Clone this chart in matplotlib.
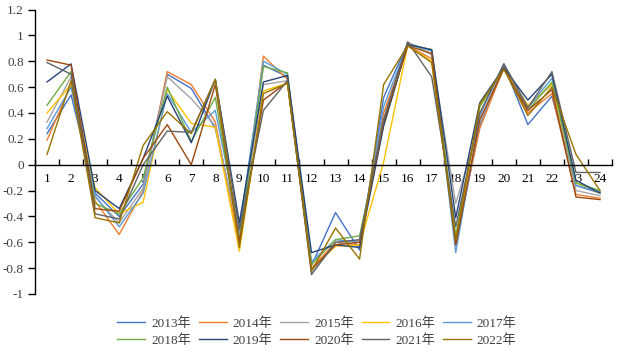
import matplotlib
matplotlib.use("Agg")
import matplotlib.pyplot as plt
import numpy as np
from matplotlib.ticker import FixedLocator

# ── Data ───────────────────────────────────────────────────────────────────────
categories = [str(i) for i in range(1, 25)]
years = ["2013年", "2014年", "2015年", "2016年", "2017年",
         "2018年", "2019年", "2020年", "2021年", "2022年"]

s2013 = [0.24, 0.54, -0.22, -0.40, -0.15, 0.70, 0.59, 0.28, -0.52, 0.77, 0.68, -0.78,
         -0.37, -0.66, 0.52, 0.94, 0.88, -0.62, 0.30, 0.77, 0.31, 0.53, -0.16, -0.22]
s2014 = [0.19, 0.62, -0.28, -0.54, -0.20, 0.72, 0.62, 0.33, -0.62, 0.84, 0.66, -0.80,
         -0.60, -0.62, 0.40, 0.92, 0.82, -0.58, 0.28, 0.75, 0.40, 0.55, -0.23, -0.26]
s2015 = [0.33, 0.68, -0.25, -0.45, -0.18, 0.68, 0.51, 0.30, -0.55, 0.62, 0.65, -0.83,
         -0.62, -0.58, 0.35, 0.95, 0.85, -0.30, 0.32, 0.78, 0.45, 0.62, -0.20, -0.24]
s2016 = [0.40, 0.62, -0.18, -0.38, -0.29, 0.58, 0.32, 0.29, -0.67, 0.57, 0.63, -0.80,
         -0.63, -0.62, 0.02, 0.92, 0.80, -0.60, 0.45, 0.75, 0.46, 0.62, -0.14, -0.22]
s2017 = [0.28, 0.60, -0.24, -0.48, -0.22, 0.55, 0.25, 0.42, -0.50, 0.80, 0.70, -0.75,
         -0.58, -0.60, 0.45, 0.93, 0.88, -0.68, 0.38, 0.78, 0.44, 0.67, -0.16, -0.21]
s2018 = [0.46, 0.72, -0.30, -0.38, -0.10, 0.60, 0.18, 0.52, -0.58, 0.76, 0.71, -0.77,
         -0.58, -0.55, 0.30, 0.93, 0.89, -0.55, 0.45, 0.74, 0.42, 0.64, -0.14, -0.20]
s2019 = [0.64, 0.78, -0.20, -0.34, 0.05, 0.53, 0.17, 0.66, -0.45, 0.64, 0.69, -0.68,
         -0.62, -0.64, 0.30, 0.93, 0.89, -0.41, 0.48, 0.75, 0.50, 0.70, -0.12, -0.22]
s2020 = [0.81, 0.77, -0.34, -0.36, 0.05, 0.31, 0.00, 0.62, -0.60, 0.50, 0.64, -0.81,
         -0.62, -0.60, 0.33, 0.92, 0.86, -0.62, 0.35, 0.74, 0.42, 0.58, -0.25, -0.27]
s2021 = [0.79, 0.70, -0.38, -0.42, 0.00, 0.26, 0.25, 0.66, -0.50, 0.42, 0.65, -0.85,
         -0.60, -0.58, 0.35, 0.95, 0.68, -0.48, 0.40, 0.78, 0.44, 0.72, -0.06, -0.06]
s2022 = [0.08, 0.65, -0.41, -0.45, 0.15, 0.41, 0.24, 0.66, -0.64, 0.55, 0.63, -0.82,
         -0.49, -0.73, 0.62, 0.92, 0.79, -0.58, 0.47, 0.74, 0.38, 0.60, 0.08, -0.20]

series = [s2013, s2014, s2015, s2016, s2017, s2018, s2019, s2020, s2021, s2022]
colors = ["#4472C4", "#ED7D31", "#A5A5A5", "#FFC000", "#5B9BD5",
          "#70AD47", "#264478", "#9E480E", "#636363", "#997300"]

y_ticks = [-1, -0.8, -0.6, -0.4, -0.2, 0, 0.2, 0.4, 0.6, 0.8, 1, 1.2]

# ── Plot ───────────────────────────────────────────────────────────────────────
FONT = ["Liberation Serif", "Noto Sans CJK SC"]
plt.rcParams["font.family"] = FONT
plt.rcParams["font.size"] = 9.5

fig = plt.figure(figsize=(6.24, 3.54), dpi=100)
ax = fig.add_axes([0.0561, 0.1695, 0.9247, 0.8035])

x = np.arange(1, len(categories) + 1)
lines = []
for vals, col, lab in zip(series, colors, years):
    ln, = ax.plot(x, vals, color=col, lw=1.0, label=lab)
    lines.append(ln)

ax.set_xlim(0.5, len(categories) + 0.5)
ax.set_ylim(-1, 1.2)

ax.set_yticks(y_ticks)
ax.set_yticklabels([f"{v:g}" for v in y_ticks], color="#404040")
ax.tick_params(axis="y", direction="out", length=5, width=1, pad=3)

# category labels at centres, tick marks at boundaries
ax.set_xticks(x)
ax.set_xticklabels(categories, color="#404040")
ax.tick_params(axis="x", which="major", length=0, pad=6)
ax.xaxis.set_minor_locator(FixedLocator(np.arange(0.5, len(categories) + 1, 1)))
ax.tick_params(axis="x", which="minor", direction="in", length=4, width=1)

ax.spines["bottom"].set_position(("data", 0))
ax.spines["top"].set_visible(False)
ax.spines["right"].set_visible(False)
for sp in ("left", "bottom"):
    ax.spines[sp].set_linewidth(1.0)
    ax.spines[sp].set_color("black")

# legend fills column-wise, so interleave to read row-wise
order = [0, 5, 1, 6, 2, 7, 3, 8, 4, 9]
fig.legend([lines[i] for i in order], [years[i] for i in order],
           loc="center", bbox_to_anchor=(0.508, 0.062), ncol=5, frameon=False,
           handlelength=2.1, handletextpad=0.45, columnspacing=0.6,
           labelspacing=0.35, prop={"family": FONT, "size": 9.5},
           labelcolor="#404040")

fig.savefig("out.png", dpi=100)
